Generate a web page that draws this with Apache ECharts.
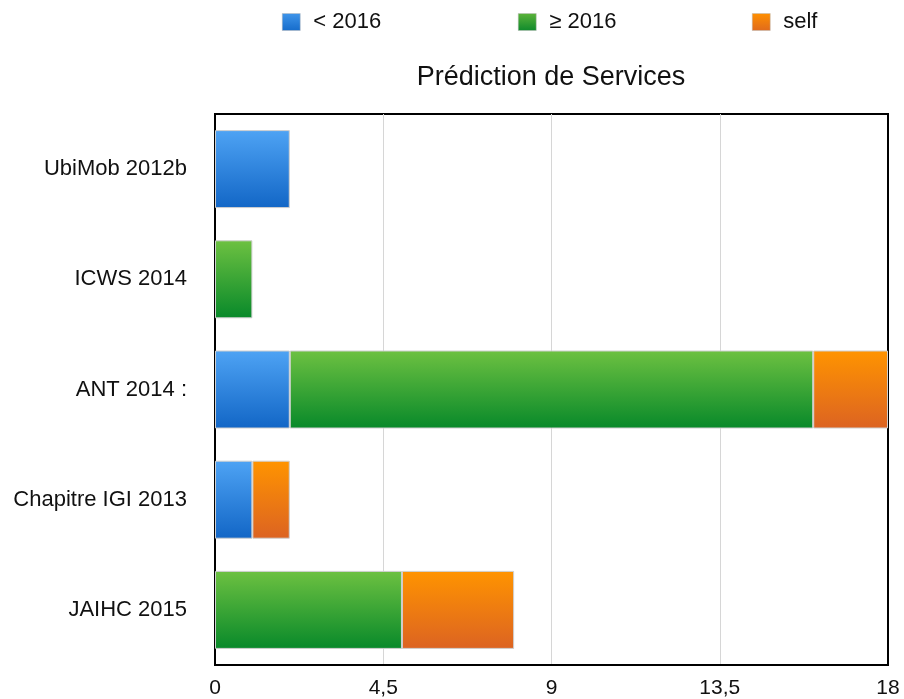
<!DOCTYPE html>
<html>
<head>
<meta charset="utf-8">
<script src="https://cdn.jsdelivr.net/npm/echarts@6/dist/echarts.min.js"></script>
<style>
  html, body { margin: 0; padding: 0; background: #fff; }
  #chart { width: 904px; height: 699px; }
</style>
</head>
<body>
<div id="chart"></div>
<script>
// Publications, top to bottom
const categories = ['UbiMob 2012b', 'ICWS 2014', 'ANT 2014 :', 'Chapitre IGI 2013', 'JAIHC 2015'];
// Citation counts per group
const before2016 = [2, 0, 2, 1, 0];
const since2016 = [0, 1, 14, 0, 5];
const selfCites = [0, 0, 2, 1, 3];
const seriesNames = ['< 2016', '\u2265 2016', 'self'];

const FONT = '"Liberation Sans", Arial, sans-serif';

function grad(top, bottom) {
  return new echarts.graphic.LinearGradient(0, 0, 0, 1, [
    { offset: 0, color: top },
    { offset: 1, color: bottom }
  ]);
}
const fills = [
  grad('#4ea3f4', '#1266c6'),
  grad('#6dc141', '#08892a'),
  grad('#ff9400', '#dc6322')
];
const legendIcons = [
  grad('#3f95ea', '#166ccb'),
  grad('#5cb33a', '#0f8a2c'),
  grad('#ff9000', '#e06a1c')
];

const valuesList = [before2016, since2016, selfCites];
const legendLeft = [282, 518, 752];

const chart = echarts.init(document.getElementById('chart'), null, { renderer: 'canvas' });

chart.setOption({
  animation: false,
  backgroundColor: '#ffffff',
  textStyle: { fontFamily: FONT },
  title: {
    text: 'Prédiction de Services',
    left: 546,
    top: 59,
    textAlign: 'center',
    textStyle: { fontFamily: FONT, fontSize: 27, fontWeight: 'normal', color: '#111' }
  },
  legend: seriesNames.map((name, i) => ({
    data: [{ name: name, itemStyle: { color: legendIcons[i], borderColor: '#bbb', borderWidth: 0.5 } }],
    left: legendLeft[i],
    top: 11,
    padding: 0,
    icon: 'rect',
    itemWidth: 18,
    itemHeight: 17,
    selectedMode: false,
    textStyle: { fontFamily: FONT, fontSize: 22, color: '#111', padding: [0, 0, 0, 8] }
  })),
  grid: {
    left: 215,
    right: 16,
    top: 114,
    bottom: 30,
    show: true,
    borderColor: '#000',
    borderWidth: 2,
    containLabel: false
  },
  xAxis: {
    type: 'value',
    min: 0,
    max: 18,
    interval: 4.5,
    axisLine: { show: true, lineStyle: { color: '#000', width: 2 } },
    axisTick: { show: false },
    splitLine: { show: true, showMinLine: false, showMaxLine: false, lineStyle: { color: '#d6d6d6', width: 1 } },
    axisLabel: {
      fontFamily: FONT,
      fontSize: 21,
      color: '#111',
      margin: 13,
      formatter: v => String(v).replace('.', ',')
    }
  },
  yAxis: {
    type: 'category',
    data: categories,
    inverse: true,
    axisLine: { show: true, lineStyle: { color: '#000', width: 2 } },
    axisTick: { show: false },
    splitLine: { show: false },
    axisLabel: { fontFamily: FONT, fontSize: 22, color: '#111', margin: 28 }
  },
  series: seriesNames.map((name, i) => ({
    name: name,
    type: 'bar',
    stack: 'cites',
    barWidth: 78,
    data: valuesList[i].map(v => (v === 0 ? '-' : v)),
    itemStyle: { color: fills[i], borderColor: '#cfcfcf', borderWidth: 1 }
  }))
});
</script>
</body>
</html>
